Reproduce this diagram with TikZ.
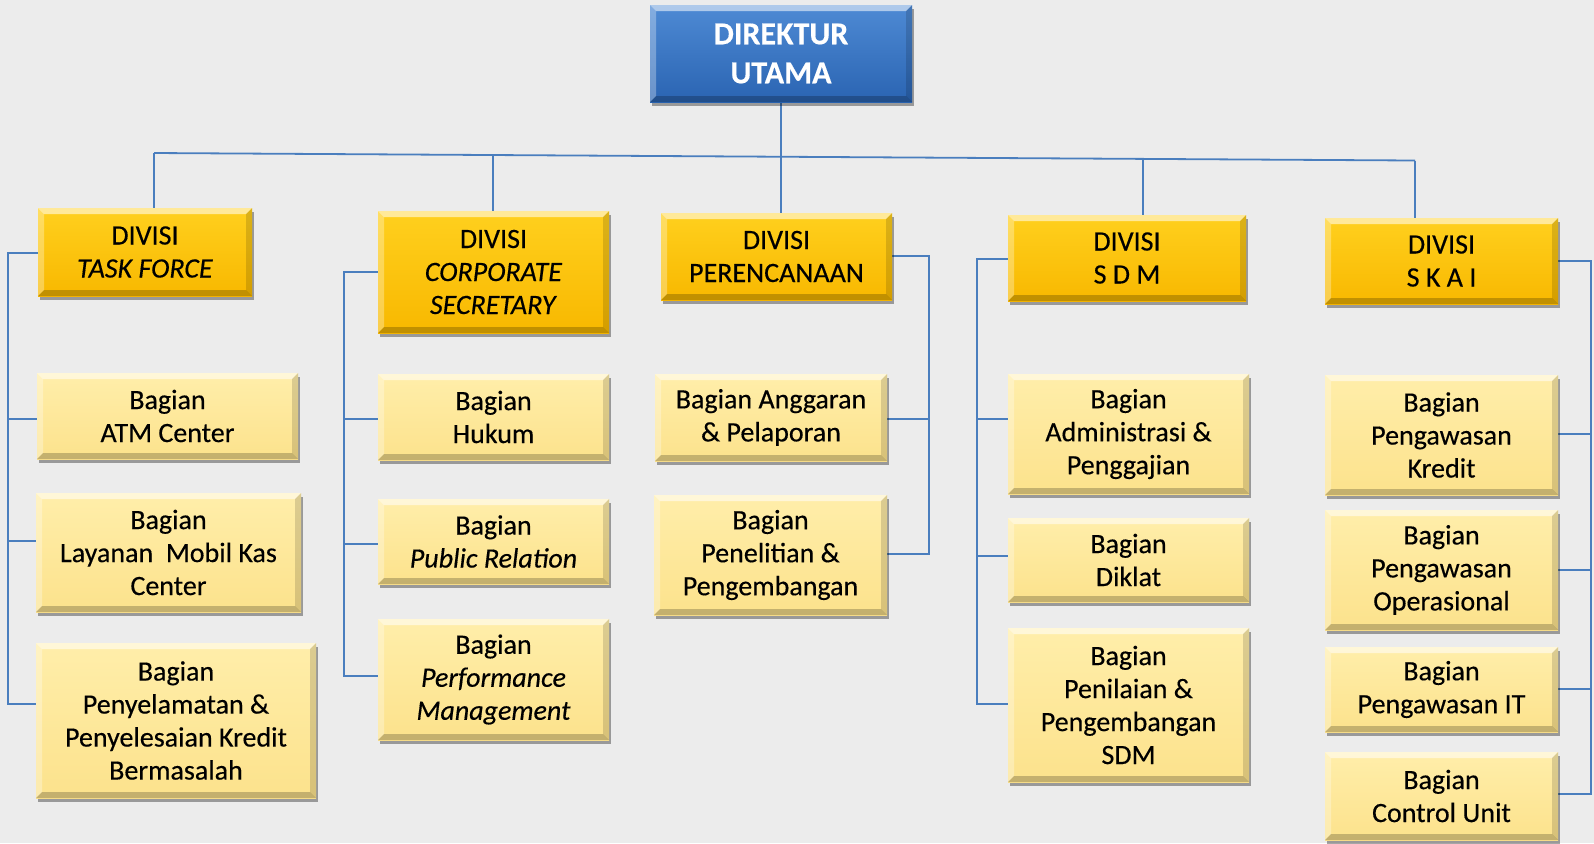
\documentclass[tikz,border=0pt]{standalone}
\usepackage{fontspec}
\setmainfont{Carlito}[FakeBold=0.35]
\usetikzlibrary{shadows}
\pgfdeclarelayer{back}
\pgfdeclarelayer{lines}
\pgfsetlayers{back,lines,main}
\definecolor{bgc}{RGB}{236,236,236}
\definecolor{conncol}{RGB}{74,126,190}
\definecolor{goldtop}{RGB}{255,208,30}
\definecolor{goldbot}{RGB}{248,184,0}
\definecolor{paletop}{RGB}{255,238,170}
\definecolor{palebot}{RGB}{252,226,140}
\definecolor{bluetop}{RGB}{78,138,212}
\definecolor{bluebot}{RGB}{42,100,178}
\tikzset{
  bevelpic/.style={path picture={
    \fill[white,opacity=0.55] (path picture bounding box.north west) -- (path picture bounding box.north east) -- ([shift={(-3pt,-3pt)}]path picture bounding box.north east) -- ([shift={(3pt,-3pt)}]path picture bounding box.north west) -- cycle;
    \fill[white,opacity=0.3] (path picture bounding box.north west) -- ([shift={(3pt,-3pt)}]path picture bounding box.north west) -- ([shift={(3pt,3pt)}]path picture bounding box.south west) -- (path picture bounding box.south west) -- cycle;
    \fill[black,opacity=0.22] (path picture bounding box.south west) -- (path picture bounding box.south east) -- ([shift={(-3pt,3pt)}]path picture bounding box.south east) -- ([shift={(3pt,3pt)}]path picture bounding box.south west) -- cycle;
    \fill[black,opacity=0.14] (path picture bounding box.north east) -- (path picture bounding box.south east) -- ([shift={(-3pt,3pt)}]path picture bounding box.south east) -- ([shift={(-3pt,-3pt)}]path picture bounding box.north east) -- cycle;
  }},
  basebox/.style={rectangle, inner sep=0pt, align=center, bevelpic,
    drop shadow={shadow xshift=1.2pt, shadow yshift=-1.8pt, opacity=0.35, fill=black},
    font=\fontsize{14}{16.5}\selectfont},
  dirbox/.style={basebox, top color=bluetop, bottom color=bluebot, text=white,
    font=\fontsize{16}{19.5}\selectfont\bfseries},
  divbox/.style={basebox, top color=goldtop, bottom color=goldbot, text=black},
  bagbox/.style={basebox, top color=paletop, bottom color=palebot, text=black},
  conn/.style={draw=conncol, line width=0.9pt},
}
\begin{document}
\begin{tikzpicture}[x=0.5pt,y=-0.5pt]
\begin{pgfonlayer}{back}
\fill[bgc] (0,0) rectangle (1594,843);
\end{pgfonlayer}
\useasboundingbox (0,0) rectangle (1594,843);

% Direktur
\node[dirbox, minimum width=131pt, minimum height=48.5pt] (dir) at (781,53.5) {DIREKTUR\\UTAMA};

% Divisions
\node[divbox, minimum width=107pt, minimum height=44pt] (tf) at (145,252) {DIVISI\\\textit{TASK FORCE}};
\node[divbox, minimum width=115.5pt, minimum height=61pt] (cs) at (493.5,272) {DIVISI\\\textit{CORPORATE}\\\textit{SECRETARY}};
\node[divbox, minimum width=115.5pt, minimum height=43.5pt] (per) at (776.5,256.5) {DIVISI\\PERENCANAAN};
\node[divbox, minimum width=119pt, minimum height=43pt] (sdm) at (1127,258) {DIVISI\\S D M};
\node[divbox, minimum width=116.5pt, minimum height=43pt] (skai) at (1441.5,261) {DIVISI\\S K A I};

% Task force
\node[bagbox, minimum width=130.5pt, minimum height=43pt] (atm) at (167.5,416) {Bagian\\ATM Center};
\node[bagbox, minimum width=132.5pt, minimum height=59.5pt] (lmk) at (168.5,552.5) {Bagian\\Layanan\ \ Mobil Kas\\Center};
\node[bagbox, minimum width=140pt, minimum height=77.5pt] (pks) at (176,720.5) {Bagian\\Penyelamatan \&\\Penyelesaian Kredit\\Bermasalah};

% Corporate secretary
\node[bagbox, minimum width=115.5pt, minimum height=43pt] (huk) at (493.5,417) {Bagian\\Hukum};
\node[bagbox, minimum width=115.5pt, minimum height=42.5pt] (pub) at (493.5,541.5) {Bagian\\\textit{Public Relation}};
\node[bagbox, minimum width=115.5pt, minimum height=60.5pt] (perf) at (493.5,679.5) {Bagian\\\textit{Performance}\\\textit{Management}};

% Perencanaan
\node[bagbox, minimum width=116pt, minimum height=43.5pt] (ang) at (771,417.5) {Bagian Anggaran\\\& Pelaporan};
\node[bagbox, minimum width=116.5pt, minimum height=60pt] (pen) at (770.5,555) {Bagian\\Penelitian \&\\Pengembangan};

% SDM
\node[bagbox, minimum width=120.5pt, minimum height=60pt] (adm) at (1128.5,434) {Bagian\\Administrasi \&\\Penggajian};
\node[bagbox, minimum width=120.5pt, minimum height=42pt] (dik) at (1128.5,560) {Bagian\\Diklat};
\node[bagbox, minimum width=120.5pt, minimum height=77pt] (pnl) at (1128.5,705) {Bagian\\Penilaian \&\\Pengembangan\\SDM};

% SKAI
\node[bagbox, minimum width=116.5pt, minimum height=60pt] (kre) at (1441.5,435) {Bagian\\Pengawasan\\Kredit};
\node[bagbox, minimum width=116.5pt, minimum height=60pt] (ops) at (1441.5,570) {Bagian\\Pengawasan\\Operasional};
\node[bagbox, minimum width=116.5pt, minimum height=42.5pt] (it) at (1441.5,689.5) {Bagian\\Pengawasan IT};
\node[bagbox, minimum width=116.5pt, minimum height=44pt] (cu) at (1441.5,796) {Bagian\\Control Unit};

\begin{pgfonlayer}{lines}
% bus
\coordinate (b0) at (154,153);
\coordinate (b1) at (493,155);
\coordinate (b3) at (1143,159);
\coordinate (b5) at (1415,160.5);
\draw[conn] (b0) -- (b5);
\draw[conn] (b0) -- (b0 |- tf.north);
\draw[conn] (b1) -- (b1 |- cs.north);
\draw[conn] (dir.south) -- (dir.south |- per.north);
\draw[conn] (b3) -- (b3 |- sdm.north);
\draw[conn] (b5) -- (b5 |- skai.north);

% task force bracket
\coordinate (t0) at (8,253);
\coordinate (t1) at (8,419);
\coordinate (t2) at (8,541);
\coordinate (t3) at (8,704);
\draw[conn] (t0 -| tf.west) -- (t0) -- (t3) -- (t3 -| pks.west);
\draw[conn] (t1) -- (t1 -| atm.west);
\draw[conn] (t2) -- (t2 -| lmk.west);

% corporate secretary bracket
\coordinate (c0) at (344,272);
\coordinate (c1) at (344,419);
\coordinate (c2) at (344,544);
\coordinate (c3) at (344,676);
\draw[conn] (c0 -| cs.west) -- (c0) -- (c3) -- (c3 -| perf.west);
\draw[conn] (c1) -- (c1 -| huk.west);
\draw[conn] (c2) -- (c2 -| pub.west);

% perencanaan bracket
\coordinate (p0) at (929,256);
\coordinate (p1) at (929,419);
\coordinate (p2) at (929,554);
\draw[conn] (p0 -| per.east) -- (p0) -- (p2) -- (p2 -| pen.east);
\draw[conn] (p1) -- (p1 -| ang.east);

% sdm bracket
\coordinate (s0) at (977,259);
\coordinate (s1) at (977,419);
\coordinate (s2) at (977,556);
\coordinate (s3) at (977,704);
\draw[conn] (s0 -| sdm.west) -- (s0) -- (s3) -- (s3 -| pnl.west);
\draw[conn] (s1) -- (s1 -| adm.west);
\draw[conn] (s2) -- (s2 -| dik.west);

% skai bracket
\coordinate (k0) at (1591,261);
\coordinate (k1) at (1591,434);
\coordinate (k2) at (1591,570);
\coordinate (k3) at (1591,689);
\coordinate (k4) at (1591,794);
\draw[conn] (k0 -| skai.east) -- (k0) -- (k4) -- (k4 -| cu.east);
\draw[conn] (k1) -- (k1 -| kre.east);
\draw[conn] (k2) -- (k2 -| ops.east);
\draw[conn] (k3) -- (k3 -| it.east);
\end{pgfonlayer}
\end{tikzpicture}
\end{document}
